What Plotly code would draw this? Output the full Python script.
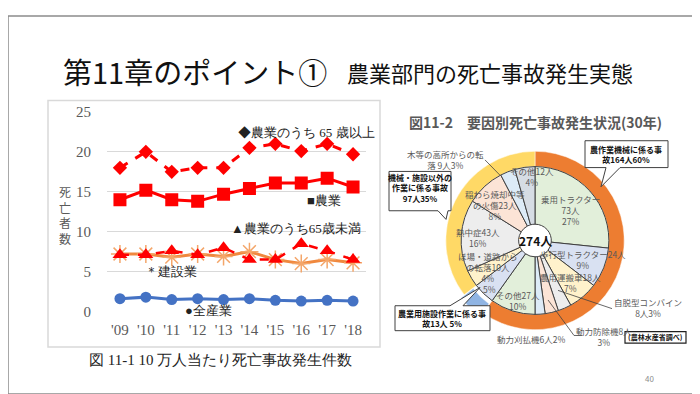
import plotly.graph_objects as go

# ---------------- data ----------------
years = ["'09", "'10", "'11", "'12", "'13", "'14", "'15", "'16", "'17", "'18"]
agri_65plus = [18.0, 20.0, 17.5, 18.0, 18.0, 20.5, 21.0, 20.1, 21.0, 19.7]
agri_all = [14.0, 15.2, 14.0, 13.8, 14.7, 15.4, 16.1, 16.1, 16.7, 15.6]
agri_under65 = [7.1, 7.1, 7.6, 7.1, 8.0, 6.5, 6.5, 8.5, 7.6, 6.5]
construction = [7.2, 7.2, 6.8, 7.2, 6.9, 7.5, 6.5, 6.0, 6.5, 6.1]
all_industry = [1.6, 1.8, 1.5, 1.6, 1.5, 1.6, 1.4, 1.3, 1.4, 1.3]

outer_labels = ["農作業機械に係る事故", "農業用施設作業に係る事故", "機械・施設以外の作業に係る事故"]
outer_values = [164, 13, 97]

inner_labels = ["乗用トラクター", "歩行型トラクター", "農用運搬車", "自脱型コンバイン", "動力防除機",
                "動力刈払機", "その他(機械)", "農業用施設", "ほ場・道路からの転落", "熱中症",
                "稲わら焼却中等の火傷", "木等の高所からの転落", "その他"]
inner_values = [73, 24, 18, 8, 8, 6, 27, 13, 10, 43, 23, 9, 12]

W, H = 700, 394
def px(x):
    return x / W
def py(y):
    return 1 - y / H

fig = go.Figure()

red = "#FF0000"
fig.add_trace(go.Scatter(x=years, y=agri_65plus, mode="lines+markers", name="農業のうち65歳以上",
                         line=dict(color=red, width=3, dash="dash"),
                         marker=dict(symbol="diamond", size=11, color=red)))
fig.add_trace(go.Scatter(x=years, y=agri_all, mode="lines+markers", name="農業",
                         line=dict(color=red, width=3),
                         marker=dict(symbol="square", size=13, color=red)))
fig.add_trace(go.Scatter(x=years, y=construction, mode="lines+markers", name="建設業",
                         line=dict(color="#F0883E", width=3),
                         marker=dict(symbol="asterisk-open", size=15, color="#F4A66A",
                                     line=dict(color="#F4A66A", width=1.5))))
fig.add_trace(go.Scatter(x=years, y=agri_under65, mode="lines+markers", name="農業のうち65歳未満",
                         line=dict(color=red, width=2.5, dash="dash"),
                         marker=dict(symbol="triangle-up", size=13, color=red)))
fig.add_trace(go.Scatter(x=years, y=all_industry, mode="lines+markers", name="全産業",
                         line=dict(color="#4472C4", width=3),
                         marker=dict(symbol="circle", size=11, color="#4472C4")))

# ---------------- pies ----------------
cx, cy = 527, 234
R_out, R_in, R_hole = 93, 77, 17
pull_blue = 0.05
Ro = R_out * (1 + pull_blue)
fig.add_trace(go.Pie(labels=outer_labels, values=outer_values, sort=False, direction="clockwise",
                     rotation=0, hole=R_in / R_out, textinfo="none", hoverinfo="label+value",
                     pull=[0, pull_blue, 0],
                     marker=dict(colors=["#ED7D31", "#8FB4E3", "#FFD966"],
                                 line=dict(color="white", width=0.5)),
                     domain=dict(x=[px(cx - Ro), px(cx + Ro)], y=[py(cy + Ro), py(cy - Ro)]),
                     showlegend=False))
inner_colors = ["#E2EFDA", "#D9E1F2", "#FFF2CC", "#EDEDED", "#FCE4D6", "#DDEBF7", "#E2EFDA",
                "#D9E1F2", "#FFF2CC", "#EDEDED", "#FCE4D6", "#DDEBF7", "#D6DCE4"]
fig.add_trace(go.Pie(labels=inner_labels, values=inner_values, sort=False, direction="clockwise",
                     rotation=0, hole=R_hole / R_in, textinfo="none", hoverinfo="label+value",
                     marker=dict(colors=inner_colors, line=dict(color="#404040", width=1)),
                     domain=dict(x=[px(cx - R_in), px(cx + R_in)], y=[py(cy + R_in), py(cy - R_in)]),
                     showlegend=False))

# ---------------- layout ----------------
serif = "Liberation Serif"
jp = "Noto Sans CJK JP"
gray = "#595959"

fig.update_layout(
    width=W, height=H, margin=dict(l=0, r=0, t=0, b=0),
    paper_bgcolor="white", plot_bgcolor="white", showlegend=False,
    xaxis=dict(domain=[px(99), px(358)], range=[-0.5, 9.5], showgrid=False, zeroline=False,
               showline=False, ticks="", tickfont=dict(family=serif, size=15, color=gray),
               ticklabelstandoff=8),
    yaxis=dict(domain=[py(308), py(100)], range=[0, 25], dtick=5, showgrid=True,
               gridcolor="#D9D9D9", gridwidth=1, zeroline=False, showline=False, ticks="",
               tickfont=dict(family=serif, size=15, color=gray), ticklabelstandoff=15),
)

shapes = []
shapes.append(dict(type="rect", xref="paper", yref="paper", x0=0, x1=1, y0=0, y1=1,
                   line=dict(color="#8C8C8C", width=1.5), fillcolor="rgba(0,0,0,0)", layer="above"))
shapes.append(dict(type="rect", xref="paper", yref="paper", x0=px(40), x1=px(372), y0=py(345), y1=py(88),
                   line=dict(color="#D9D9D9", width=1.5), fillcolor="rgba(0,0,0,0)", layer="below"))

def poly(points):
    return "M " + " L ".join(f"{px(x):.5f},{py(y):.5f}" for x, y in points) + " Z"

shapes.append(dict(type="path", xref="paper", yref="paper",
                   path=poly([(577, 130), (660, 130), (660, 158), (612, 158), (593, 178), (598, 158), (577, 158)]),
                   line=dict(color="#404040", width=1), fillcolor="white"))
shapes.append(dict(type="path", xref="paper", yref="paper",
                   path=poly([(381, 162), (443, 162), (443, 203), (440, 203), (438, 212), (430, 203), (381, 203)]),
                   line=dict(color="#404040", width=1), fillcolor="white"))
shapes.append(dict(type="path", xref="paper", yref="paper",
                   path=poly([(387, 302), (442, 302), (472, 283), (455, 302), (482, 302), (482, 328), (387, 328)]),
                   line=dict(color="#404040", width=1), fillcolor="white"))
shapes.append(dict(type="rect", xref="paper", yref="paper", x0=px(617), x1=px(678), y0=py(341), y1=py(329),
                   line=dict(color="#202020", width=1.2), fillcolor="white"))
for (x0, y0, x1, y1) in [(477, 150, 492, 166), (550, 286, 604, 305), (540, 296, 566, 333),
                         (566, 333, 574, 333)]:
    shapes.append(dict(type="line", xref="paper", yref="paper", x0=px(x0), y0=py(y0), x1=px(x1), y1=py(y1),
                       line=dict(color="#404040", width=0.8)))
fig.update_layout(shapes=shapes)

ann = []
def text(x, y, t, size=10, color=gray, family=jp, xanchor="center", bold=False):
    if bold:
        t = "<b>" + t + "</b>"
    ann.append(dict(x=px(x), y=py(y), xref="paper", yref="paper", text=t, showarrow=False,
                    font=dict(size=size, color=color, family=family), xanchor=xanchor, yanchor="middle",
                    borderpad=0))

# title
text(54, 57, "第11章のポイント①", size=29, color="#111111", xanchor="left")
text(338, 58, "農業部門の死亡事故発生実態", size=22, color="#111111", xanchor="left")

# line chart labels
text(57, 207, "死<br>亡<br>者<br>数", size=12, color=gray)
text(229, 121, "◆農業のうち 65 歳以上", size=13, color="#222222", family=serif, xanchor="left")
text(298, 192, "■農業", size=13, color="#222222", family=serif, xanchor="left")
text(222, 222, "▲農業のうち65歳未満", size=13, color="#222222", family=serif, xanchor="left")
text(136, 266, "＊建設業", size=13, color="#222222", family=serif, xanchor="left")
text(176, 307, "●全産業", size=13, color="#222222", family=serif, xanchor="left")

# caption & page number
text(80, 359, "図 11-1 10 万人当たり死亡事故発生件数", size=15, color="#222222", family=serif, xanchor="left")
text(641, 378, "40", size=8, color="#8C8C8C")

# pie title
text(527, 110, "図11-2　要因別死亡事故発生状況(30年)", size=14, color=gray, bold=True)

# pie center
text(cx, cy, "274人", size=12, color="#111111", bold=True)

# pie slice labels
lab = 8.5
for (x, y, t) in [
    (562, 202, "乗用トラクター<br>73人<br>27%"),
    (575, 254, "歩行型トラクター24人<br>9%"),
    (562, 278, "農用運搬車18人<br>7%"),
    (510, 297, "その他27人<br>10%"),
    (480, 262, "ほ場・道路から<br>の転落10人<br>4%"),
    (470, 231, "熱中症43人<br>16%"),
    (487, 197, "稲わら焼却中等<br>の火傷23人<br>8%"),
    (524, 167, "その他12人<br>4%"),
    (437, 150, "木等の高所からの転<br>落 9人3%"),
    (640, 304, "自脱型コンバイン<br>8人3%"),
    (596, 334, "動力防除機8人<br>3%"),
    (523, 337, "動力刈払機6人2%"),
]:
    text(x, y, t, size=lab)
text(481, 285, "5%", size=lab)

# callout texts
text(618, 144, "農作業機械に係る事<br>故164人60%", size=8, color="#111111", bold=True)
text(412, 179, "機械・施設以外の<br>作業に係る事故<br>97人35%", size=8, color="#111111", bold=True)
text(434, 315, "農業用施設作業に係る事<br>故13人 5%", size=8, color="#111111", bold=True)
text(647, 335, "(農林水産省調べ)", size=7, color="#111111", bold=True)

fig.update_layout(annotations=ann)

fig.write_html("out.html")
